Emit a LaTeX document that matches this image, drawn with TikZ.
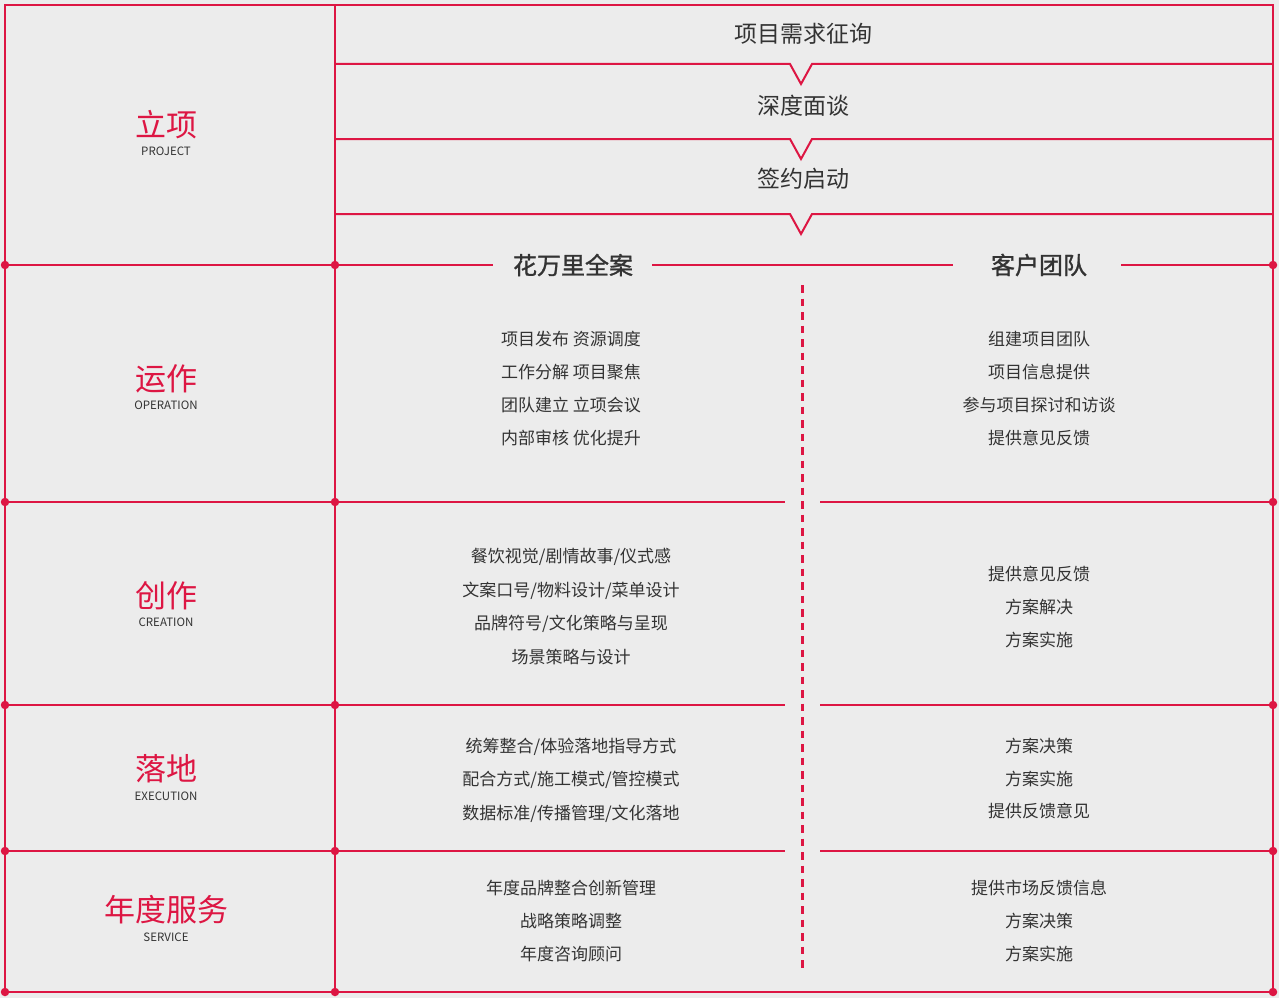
\documentclass[tikz,border=0pt]{standalone}
\usepackage{fontspec}
\newfontfamily\cjk{Noto Sans CJK SC}
\newfontfamily\cjkm[FakeBold=1.2]{Noto Sans CJK SC}
\definecolor{rd}{RGB}{221,22,67}
\definecolor{bgc}{RGB}{236,236,236}
\definecolor{tx}{RGB}{51,51,51}
\begin{document}
\begin{tikzpicture}[x=1pt,y=-1pt,line width=2pt,
  frame/.style={draw=rd,line width=2pt},
  dot/.style={circle,fill=rd,inner sep=0pt,minimum size=8.5pt},
  body/.style={font=\cjk\fontsize{17}{20}\selectfont,text=tx,inner sep=0pt,anchor=base,yshift=-6.6pt},
  stage/.style={font=\cjk\fontsize{23}{26}\selectfont,text=tx,inner sep=0pt},
  head/.style={font=\cjkm\fontsize{24}{28}\selectfont,text=tx,inner sep=0pt},
  lbl/.style={font=\cjk\fontsize{31}{34}\selectfont,text=rd,inner sep=0pt},
  sub/.style={font=\cjk\fontsize{11.5}{13}\selectfont,text=tx,inner sep=0pt}]
\fill[bgc] (0,0) rectangle (1279,998);
\useasboundingbox (0,0) rectangle (1279,998);
% coordinates
\foreach \y/\n in {5/a,265/b,502/c,705/d,851/e,992/f}{
  \coordinate (L\n) at (5,\y);
  \coordinate (M\n) at (335,\y);
  \coordinate (R\n) at (1273,\y);
}
% frame
\draw[frame] (La) -- (Ra) -- (Rf) -- (Lf) -- cycle;
\draw[frame] (Ma) -- (Mf);
% top stage lines with V notches
\foreach \y/\n in {64/s1,139/s2,214/s3}{
  \coordinate (\n l) at (335,\y);
  \coordinate (\n r) at (1273,\y);
  \draw[frame] (\n l) -- (790,\y) -- (801,\y+20) -- (812,\y) -- (\n r);
}
% stage texts
\node[stage] (t1) at (803,34) {项目需求征询};
\node[stage] (t2) at (803,106) {深度面谈};
\node[stage] (t3) at (803,179) {签约启动};
% header row
\node[head] (h1) at (573,265) {花万里全案};
\node[head] (h2) at (1039,265) {客户团队};
\draw[frame] (Lb) -- (Mb);
\draw[frame] (Mb) -- (493,265);
\draw[frame] (652,265) -- (953,265);
\draw[frame] (1121,265) -- (Rb);
% row lines
\foreach \n/\y in {c/502,d/705,e/851}{
  \draw[frame] (L\n) -- (785,\y);
  \draw[frame] (820,\y) -- (R\n);
}
% dashed divider
\coordinate (dv1) at (802,285);
\coordinate (dv2) at (802,972);
\draw[draw=rd,line width=3pt,dash pattern=on 7.5pt off 6pt] (dv1) -- (dv2);
% dots
\foreach \n in {b,c,d,e,f}{
  \node[dot] at (L\n) {};
  \node[dot] at (M\n) {};
  \node[dot] at (R\n) {};
}
% left labels
\node[lbl] (l1) at (166,125) {立项};
\node[sub] (s1) at (166,151) {PROJECT};
\node[lbl] (l2) at (166,379) {运作};
\node[sub] (s2) at (166,405) {OPERATION};
\node[lbl] (l3) at (166,596) {创作};
\node[sub] (s3) at (166,622) {CREATION};
\node[lbl] (l4) at (166,769) {落地};
\node[sub] (s4) at (166,796) {EXECUTION};
\node[lbl] (l5) at (166,910) {年度服务};
\node[sub] (s5) at (166,937) {SERVICE};
% body texts, left column
\node[body] (a1) at (571,339) {项目发布 资源调度};
\node[body] (a2) at (571,372) {工作分解 项目聚焦};
\node[body] (a3) at (571,405) {团队建立 立项会议};
\node[body] (a4) at (571,438) {内部审核 优化提升};
\node[body] (b1) at (571,556) {餐饮视觉/剧情故事/仪式感};
\node[body] (b2) at (571,590) {文案口号/物料设计/菜单设计};
\node[body] (b3) at (571,623) {品牌符号/文化策略与呈现};
\node[body] (b4) at (571,657) {场景策略与设计};
\node[body] (c1) at (571,746) {统筹整合/体验落地指导方式};
\node[body] (c2) at (571,779) {配合方式/施工模式/管控模式};
\node[body] (c3) at (571,813) {数据标准/传播管理/文化落地};
\node[body] (d1) at (571,888) {年度品牌整合创新管理};
\node[body] (d2) at (571,921) {战略策略调整};
\node[body] (d3) at (571,954) {年度咨询顾问};
% body texts, right column
\node[body] (e1) at (1039,339) {组建项目团队};
\node[body] (e2) at (1039,372) {项目信息提供};
\node[body] (e3) at (1039,405) {参与项目探讨和访谈};
\node[body] (e4) at (1039,438) {提供意见反馈};
\node[body] (f1) at (1039,574) {提供意见反馈};
\node[body] (f2) at (1039,607) {方案解决};
\node[body] (f3) at (1039,640) {方案实施};
\node[body] (g1) at (1039,746) {方案决策};
\node[body] (g2) at (1039,779) {方案实施};
\node[body] (g3) at (1039,811) {提供反馈意见};
\node[body] (k1) at (1039,888) {提供市场反馈信息};
\node[body] (k2) at (1039,921) {方案决策};
\node[body] (k3) at (1039,954) {方案实施};
\end{tikzpicture}
\end{document}
